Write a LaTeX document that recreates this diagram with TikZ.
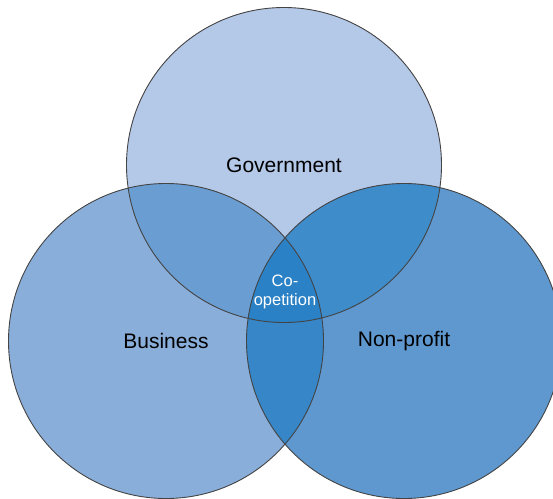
\documentclass[tikz,border=0pt]{standalone}
\usepackage{fontspec}
\setmainfont{Liberation Sans}
\usetikzlibrary{shapes}
\definecolor{gov_blue}{HTML}{B4C8E7}
\definecolor{bus_blue}{HTML}{8AAEDA}
\definecolor{non_blue}{HTML}{5E98CF}
\definecolor{govbus_blue}{HTML}{6A9ED3}
\definecolor{govnon_blue}{HTML}{3F8CCB}
\definecolor{busnon_blue}{HTML}{3686C8}
\definecolor{coop_blue}{HTML}{2A81C5}
\definecolor{rim_gray}{HTML}{444444}

\begin{document}
\begin{tikzpicture}[x=1pt, y=-1pt, every node/.style={circle, inner sep=0pt, minimum size=315pt},
    label/.style={draw=none, fill=none, minimum size=0pt, rectangle, font=\fontsize{21}{25}\selectfont}]
  \useasboundingbox (0,0) rectangle (553,498);
  \begin{scope}
    \clip (0,0) rectangle (553,498);
    \node[fill=gov_blue] (gov) at (284,165) {};
    \node[fill=bus_blue] (bus) at (166,341) {};
    \node[fill=non_blue] (non) at (404,341) {};
    % overlaps
    \begin{scope}
      \clip (gov.center) circle[radius=157.5pt];
      \fill[govbus_blue] (bus.center) circle[radius=157.5pt];
      \fill[govnon_blue] (non.center) circle[radius=157.5pt];
    \end{scope}
    \begin{scope}
      \clip (bus.center) circle[radius=157.5pt];
      \fill[busnon_blue] (non.center) circle[radius=157.5pt];
      \clip (non.center) circle[radius=157.5pt];
      \fill[coop_blue] (gov.center) circle[radius=157.5pt];
    \end{scope}
    \draw[rim_gray, line width=0.9pt] (gov.center) circle[radius=157.5pt];
    \draw[rim_gray, line width=0.9pt] (bus.center) circle[radius=157.5pt];
    \draw[rim_gray, line width=0.9pt] (non.center) circle[radius=157.5pt];
  \end{scope}
  \node[label] (govtext) at (284,165) {Government};
  \node[label] (bustext) at (166,341) {Business};
  \node[label] (nontext) at (404,341) {Non-profit};
  \node[label, text=white, align=center, font=\fontsize{16.5}{19}\selectfont] (cooptext) at (285,292) {Co-\\opetition};
\end{tikzpicture}
\end{document}
